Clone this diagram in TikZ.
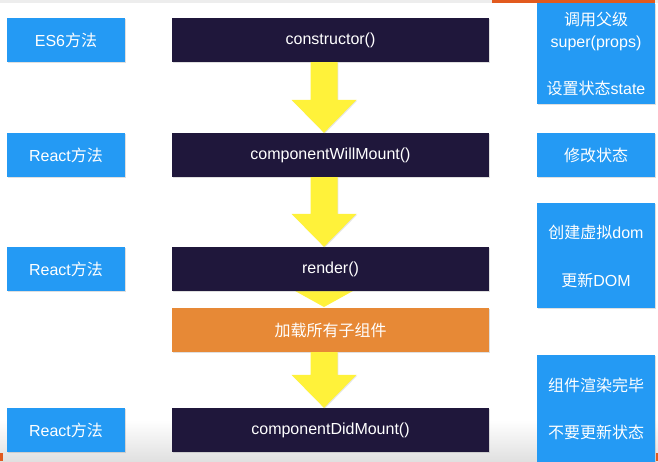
\documentclass[tikz,border=0pt]{standalone}
\usepackage{fontspec}
\setmainfont{Liberation Sans}
\newfontfamily\cjk{Noto Sans CJK SC}
\usetikzlibrary{calc,shadows}
\definecolor{blueC}{RGB}{36,154,244}
\definecolor{navyC}{RGB}{31,23,59}
\definecolor{orangeC}{RGB}{231,137,54}
\definecolor{yellowC}{RGB}{255,242,58}
\definecolor{barC}{RGB}{226,90,30}
\newcommand\yarr[2]{%
  \fill[yellowC, drop shadow={opacity=0.2,shadow xshift=0.8pt,shadow yshift=-0.8pt}]
    ($(#1.south)+(-6.5,0)+(-13.5,0)$) -- ($(#1.south)+(-6.5,0)+(13.5,0)$)
    -- ($(#2.north)+(-6.5,-33)+(13.5,0)$) -- ($(#2.north)+(-6.5,-33)+(32.5,0)$)
    -- ($(#2.north)+(-6.5,0)$)
    -- ($(#2.north)+(-6.5,-33)+(-32.5,0)$) -- ($(#2.north)+(-6.5,-33)+(-13.5,0)$) -- cycle;}
\begin{document}
\begin{tikzpicture}[x=1pt,y=-1pt,
  box/.style={minimum height=44pt, inner sep=0pt, text=white,
    font=\fontsize{16}{19}\selectfont,
    drop shadow={opacity=0.25,shadow xshift=1pt,shadow yshift=-1pt}},
  side/.style={box, fill=blueC, minimum width=118pt},
  step box/.style={box, fill=navyC, minimum width=317pt},
  load box/.style={box, fill=orangeC, minimum width=317pt},
  txt/.style={text=white, inner sep=0pt, font=\fontsize{16}{19}\selectfont}]
\useasboundingbox (0,0) rectangle (658,461);
\clip (0,0) rectangle (658,461);
\fill[white] (0,0) rectangle (658,461);
\shade[top color=white, bottom color=black!12] (0,420) rectangle (658,461);
\fill[black!7] (0,0) rectangle (658,3);
\fill[barC] (492,0) rectangle (655,2.5);
\fill[barC] (0,453) rectangle (2.5,461);
\fill[barC] (655.5,453) rectangle (658,461);

% left labels
\node[side] (l1) at (66,40) {ES6{\cjk 方法}};
\node[side] (l2) at (66,155) {React{\cjk 方法}};
\node[side] (l3) at (66,269) {React{\cjk 方法}};
\node[side] (l4) at (66,430) {React{\cjk 方法}};

% right notes
\node[side, minimum height=101pt] (r1) at (596,53.5) {};
\node[txt] (r1a) at (596,19) {\cjk 调用父级};
\node[txt] (r1b) at (596,43) {super(props)};
\node[txt] (r1c) at (596,88) {{\cjk 设置状态}state};
\node[side] (r2) at (596,155) {\cjk 修改状态};
\node[side, minimum height=105pt] (r3) at (596,255.5) {};
\node[txt] (r3a) at (596,232) {{\cjk 创建虚拟}dom};
\node[txt] (r3b) at (596,280) {{\cjk 更新}DOM};
\node[side, minimum height=110pt] (r4) at (596,410) {};
\node[txt] (r4a) at (596,385) {\cjk 组件渲染完毕};
\node[txt] (r4b) at (596,432) {\cjk 不要更新状态};

% flow
\coordinate (rb) at (330.5,289);
\coordinate (ot) at (330.5,308);
\fill[yellowC] ($(rb)+(-6.5,0)+(-32.5,0)$) -- ($(rb)+(-6.5,0)+(32.5,0)$) -- ($(ot)+(-6.5,-1)$) -- cycle;
\node[step box] (c1) at (330.5,40) {constructor()};
\node[step box] (c2) at (330.5,155) {componentWillMount()};
\node[step box] (c3) at (330.5,269) {render()};
\node[load box] (c4) at (330.5,330) {\cjk 加载所有子组件};
\node[step box] (c5) at (330.5,430) {componentDidMount()};
\yarr{c1}{c2}
\yarr{c2}{c3}
\yarr{c4}{c5}
\end{tikzpicture}
\end{document}
